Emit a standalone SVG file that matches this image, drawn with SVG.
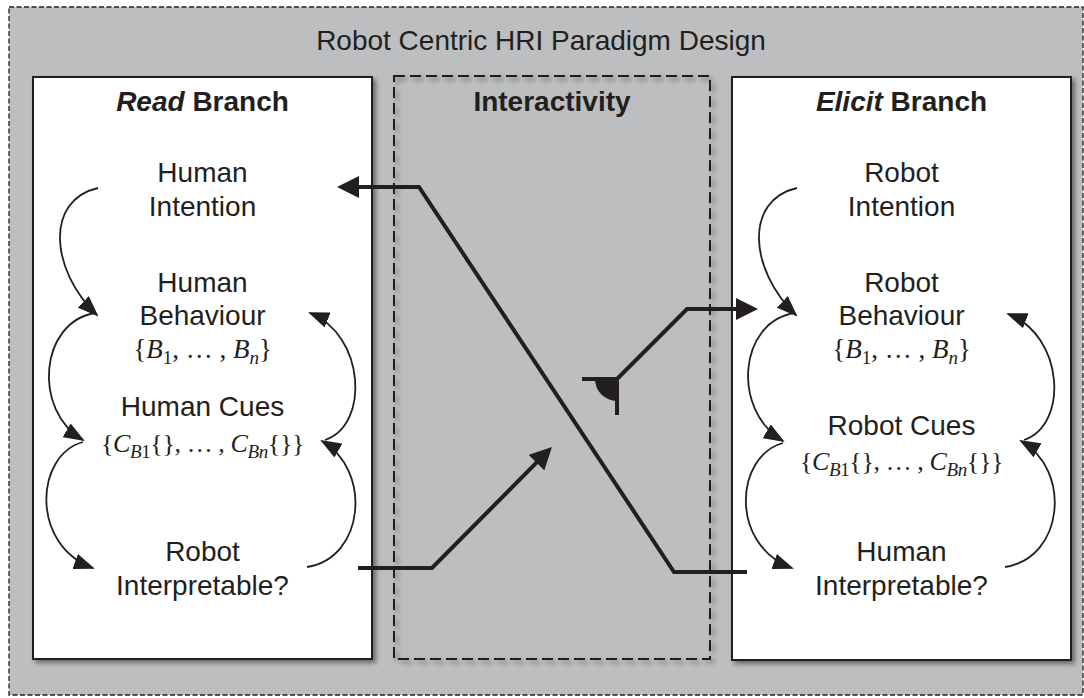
<svg xmlns="http://www.w3.org/2000/svg" width="1084" height="698" viewBox="0 0 1084 698">
  <defs>
    <style>
      .txt { font-family: "Liberation Sans", Arial, sans-serif; font-size: 28px; fill: #231f20; text-anchor: middle; }
      .bold { font-weight: bold; }
      .math { font-family: "Liberation Serif", "Times New Roman", serif; font-size: 27px; fill: #231f20; text-anchor: middle; }
      .cues { font-size: 26px; letter-spacing: -0.4px; }
      .it { font-style: italic; }
      .sub { font-size: 19px; }
      .panel { fill: #ffffff; stroke: #231f20; stroke-width: 2; }
      .arc { fill: none; stroke: #231f20; stroke-width: 1.8; marker-end: url(#thinHead); }
      .link { fill: none; stroke: #231f20; stroke-width: 4; stroke-linejoin: miter; }
    </style>
    <filter id="shadow" x="-5%" y="-5%" width="115%" height="115%">
      <feDropShadow dx="3" dy="3" stdDeviation="2.5" flood-color="#000000" flood-opacity="0.45"/>
    </filter>
    <marker id="thinHead" viewBox="0 0 21 16" markerUnits="userSpaceOnUse" markerWidth="21" markerHeight="16" refX="19" refY="8" orient="auto">
      <path d="M0,0 L21,8 L0,16 Z" fill="#231f20"/>
    </marker>
    <marker id="thickHead" viewBox="0 0 22 22" markerUnits="userSpaceOnUse" markerWidth="22" markerHeight="22" refX="6" refY="11" orient="auto">
      <path d="M0,0 L22,11 L0,22 Z" fill="#231f20"/>
    </marker>
  </defs>

  <!-- outer frame -->
  <g id="paradigm-frame">
    <rect x="9" y="7" width="1074" height="688" fill="#bcbec0" stroke="#231f20" stroke-width="1.3" stroke-dasharray="5 2.5"/>
    <text class="txt" x="541" y="50">Robot Centric HRI Paradigm Design</text>
  </g>

  <!-- read branch panel -->
  <g id="read-branch">
    <rect class="panel" x="33" y="77" width="339" height="582" filter="url(#shadow)"/>
    <text class="txt bold" x="202.5" y="111"><tspan class="it">Read</tspan> Branch</text>
  </g>

  <!-- interactivity panel -->
  <g id="interactivity">
    <rect x="394" y="76" width="316" height="583" fill="none" stroke="#231f20" stroke-width="2" stroke-dasharray="11 5" filter="url(#shadow)"/>
    <text class="txt bold" x="552" y="111">Interactivity</text>
  </g>

  <!-- elicit branch panel -->
  <g id="elicit-branch">
    <rect class="panel" x="732" y="77" width="339" height="583" filter="url(#shadow)"/>
    <text class="txt bold" x="901.5" y="111"><tspan class="it">Elicit</tspan> Branch</text>
  </g>

  <!-- read branch nodes -->
  <g id="human-intention">
    <text class="txt" x="202.5" y="182">Human</text>
    <text class="txt" x="202.5" y="216">Intention</text>
  </g>
  <g id="human-behaviour">
    <text class="txt" x="202.5" y="292">Human</text>
    <text class="txt" x="202.5" y="325">Behaviour</text>
    <text class="math" x="202.5" y="358">{<tspan class="it">B</tspan><tspan class="sub" dy="6">1</tspan><tspan dy="-6">, … , </tspan><tspan class="it">B</tspan><tspan class="sub it" dy="6">n</tspan><tspan dy="-6">}</tspan></text>
  </g>
  <g id="human-cues">
    <text class="txt" x="202.5" y="416">Human Cues</text>
    <text class="math cues" x="202.5" y="452">{<tspan class="it">C</tspan><tspan class="sub" dy="6"><tspan class="it">B</tspan>1</tspan><tspan dy="-6">{}, … , </tspan><tspan class="it">C</tspan><tspan class="sub it" dy="6">Bn</tspan><tspan dy="-6">{}}</tspan></text>
  </g>
  <g id="robot-interpretable">
    <text class="txt" x="202.5" y="561">Robot</text>
    <text class="txt" x="202.5" y="595">Interpretable?</text>
  </g>

  <!-- elicit branch nodes -->
  <g id="robot-intention">
    <text class="txt" x="901.5" y="182">Robot</text>
    <text class="txt" x="901.5" y="216">Intention</text>
  </g>
  <g id="robot-behaviour">
    <text class="txt" x="901.5" y="292">Robot</text>
    <text class="txt" x="901.5" y="325">Behaviour</text>
    <text class="math" x="901.5" y="358">{<tspan class="it">B</tspan><tspan class="sub" dy="6">1</tspan><tspan dy="-6">, … , </tspan><tspan class="it">B</tspan><tspan class="sub it" dy="6">n</tspan><tspan dy="-6">}</tspan></text>
  </g>
  <g id="robot-cues">
    <text class="txt" x="901.5" y="435">Robot Cues</text>
    <text class="math cues" x="901.5" y="470">{<tspan class="it">C</tspan><tspan class="sub" dy="6"><tspan class="it">B</tspan>1</tspan><tspan dy="-6">{}, … , </tspan><tspan class="it">C</tspan><tspan class="sub it" dy="6">Bn</tspan><tspan dy="-6">{}}</tspan></text>
  </g>
  <g id="human-interpretable">
    <text class="txt" x="901.5" y="561">Human</text>
    <text class="txt" x="901.5" y="595">Interpretable?</text>
  </g>

  <!-- connectors -->
  <g id="connectors">
    <!-- read branch loops -->
    <path class="arc" d="M98,188 C45,200 50,270 97,315"/>
    <path class="arc" d="M95,313 C40,322 32,410 83,440"/>
    <path class="arc" d="M83,442 C35,455 30,545 93,568"/>
    <path class="arc" d="M307,567 C365,558 372,470 322,441"/>
    <path class="arc" d="M325,440 C370,425 365,335 310,313"/>
    <!-- elicit branch loops -->
    <path class="arc" d="M797,188 C744,200 749,270 796,315"/>
    <path class="arc" d="M794,313 C739,322 731,410 783,441"/>
    <path class="arc" d="M783,443 C735,456 729,545 792,568"/>
    <path class="arc" d="M1005,567 C1064,558 1072,470 1021,441"/>
    <path class="arc" d="M1024,440 C1069,425 1064,335 1008,314"/>

    <!-- elicit output back to read intention -->
    <path class="link" d="M747,572 L674,572 L419,187 L353,187" marker-end="url(#thickHead)"/>
    <!-- read output into interactivity -->
    <path class="link" d="M358,568 L432,568 L540.7,458.4" marker-end="url(#thickHead)"/>
    <!-- interactivity into elicit behaviour -->
    <path class="link" d="M617,379 L687,309 L742,309" marker-end="url(#thickHead)"/>
    <rect x="582" y="377" width="37" height="4" fill="#231f20"/>
    <rect x="615" y="377" width="4" height="38" fill="#231f20"/>
    <path d="M595,379 A22,22 0 0 0 617,401 L617,379 Z" fill="#231f20"/>
  </g>
</svg>
